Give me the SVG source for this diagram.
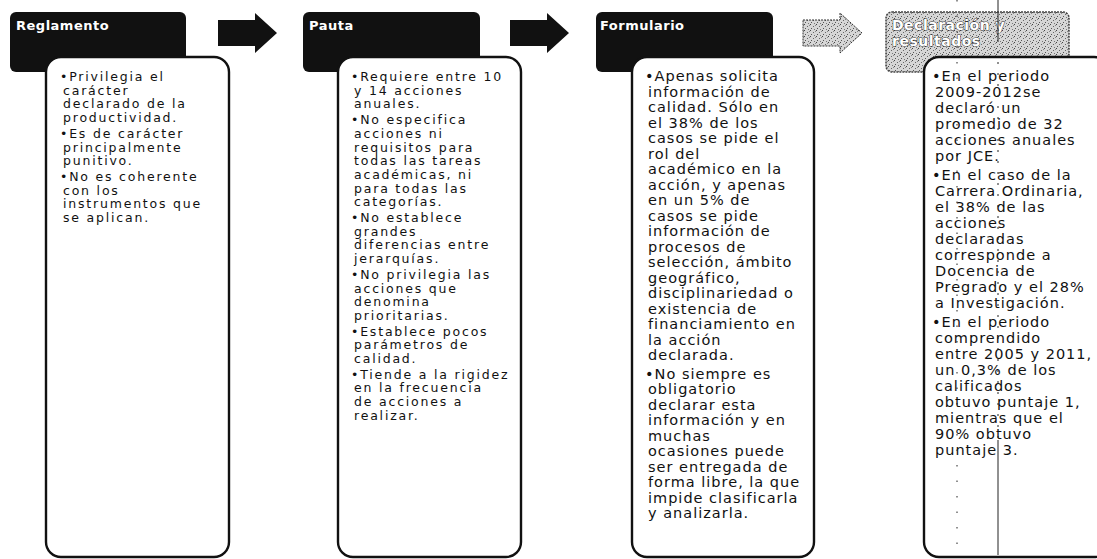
<svg xmlns="http://www.w3.org/2000/svg" width="1097" height="559" viewBox="0 0 1097 559">
<style>
.hdr{fill:#111;}
.box{fill:#fff;stroke:#111;stroke-width:2.4;}
.ht{font-family:"DejaVu Sans",sans-serif;font-weight:bold;font-size:13px;fill:#fff;letter-spacing:0.5px;}
.ht4{font-size:14px;fill:#fff;stroke:#333;stroke-width:1px;paint-order:stroke;}
.t{font-family:"DejaVu Sans","Liberation Sans",sans-serif;font-size:14.5px;fill:#111;letter-spacing:1px;}
.t2{font-family:"DejaVu Sans","Liberation Sans",sans-serif;font-size:12.5px;fill:#111;letter-spacing:1.8px;}
.arr{fill:#111;}
.scan{stroke:#222;stroke-width:1;fill:none;}
</style>
<defs>
<pattern id="dith" width="6" height="6" patternUnits="userSpaceOnUse">
<rect width="6" height="6" fill="#d6d6d6"/>
<rect x="0" y="0" width="1" height="1" fill="#444"/>
<rect x="3" y="2" width="1" height="1" fill="#666"/>
<rect x="1" y="4" width="1" height="1" fill="#555"/>
<rect x="4" y="5" width="1" height="1" fill="#777"/>
<rect x="5" y="1" width="1" height="1" fill="#888"/>
</pattern>
</defs>
<rect width="1097" height="559" fill="#fff"/>

<g id="connectors">
<path class="arr" d="M218,20 H255 V13 L277,33 L255,53 V46 H218 Z"/>
<path class="arr" d="M510,20 H547 V13 L569,33 L547,53 V46 H510 Z"/>
<path d="M803,20 H840 V13 L862,33 L840,53 V46 H803 Z" fill="url(#dith)" stroke="#333" stroke-width="1" stroke-dasharray="2 1"/>
</g>

<g id="node-reglamento">
<rect class="hdr" x="10" y="12" width="176" height="60" rx="6"/>
<text class="ht" x="16" y="30">Reglamento</text>
<rect class="box" x="46" y="57" width="183" height="500" rx="15"/>
<text class="t2">
<tspan x="60" y="81">•Privilegia el</tspan>
<tspan x="63" y="94.7">carácter</tspan>
<tspan x="63" y="108.4">declarado de la</tspan>
<tspan x="63" y="122.1">productividad.</tspan>
<tspan x="60" y="137.8">•Es de carácter</tspan>
<tspan x="63" y="151.5">principalmente</tspan>
<tspan x="63" y="165.2">punitivo.</tspan>
<tspan x="60" y="180.9">•No es coherente</tspan>
<tspan x="63" y="194.6">con los</tspan>
<tspan x="63" y="208.3">instrumentos que</tspan>
<tspan x="63" y="222">se aplican.</tspan>
</text>
</g>

<g id="node-pauta">
<rect class="hdr" x="303" y="12" width="177" height="60" rx="6"/>
<text class="ht" x="309" y="30">Pauta</text>
<rect class="box" x="338" y="57" width="183" height="500" rx="15"/>
<text class="t2">
<tspan x="351" y="81">•Requiere entre 10</tspan>
<tspan x="354" y="94.7">y 14 acciones</tspan>
<tspan x="354" y="108.4">anuales.</tspan>
<tspan x="351" y="124.1">•No especifica</tspan>
<tspan x="354" y="137.8">acciones ni</tspan>
<tspan x="354" y="151.5">requisitos para</tspan>
<tspan x="354" y="165.2">todas las tareas</tspan>
<tspan x="354" y="178.9">académicas, ni</tspan>
<tspan x="354" y="192.6">para todas las</tspan>
<tspan x="354" y="206.3">categorías.</tspan>
<tspan x="351" y="222">•No establece</tspan>
<tspan x="354" y="235.7">grandes</tspan>
<tspan x="354" y="249.4">diferencias entre</tspan>
<tspan x="354" y="263.1">jerarquías.</tspan>
<tspan x="351" y="278.8">•No privilegia las</tspan>
<tspan x="354" y="292.5">acciones que</tspan>
<tspan x="354" y="306.2">denomina</tspan>
<tspan x="354" y="319.9">prioritarias.</tspan>
<tspan x="351" y="335.6">•Establece pocos</tspan>
<tspan x="354" y="349.3">parámetros de</tspan>
<tspan x="354" y="363">calidad.</tspan>
<tspan x="351" y="378.7">•Tiende a la rigidez</tspan>
<tspan x="354" y="392.4">en la frecuencia</tspan>
<tspan x="354" y="406.1">de acciones a</tspan>
<tspan x="354" y="419.8">realizar.</tspan>
</text>
</g>

<g id="node-formulario">
<rect class="hdr" x="596" y="12" width="177" height="60" rx="6"/>
<text class="ht" x="600" y="30">Formulario</text>
<rect class="box" x="632" y="57" width="182" height="500" rx="15"/>
<text class="t">
<tspan x="645" y="81">•Apenas solicita</tspan>
<tspan x="648" y="96.5">información de</tspan>
<tspan x="648" y="112">calidad. Sólo en</tspan>
<tspan x="648" y="127.5">el 38% de los</tspan>
<tspan x="648" y="143">casos se pide el</tspan>
<tspan x="648" y="158.5">rol del</tspan>
<tspan x="648" y="174">académico en la</tspan>
<tspan x="648" y="189.5">acción, y apenas</tspan>
<tspan x="648" y="205">en un 5% de</tspan>
<tspan x="648" y="220.5">casos se pide</tspan>
<tspan x="648" y="236">información de</tspan>
<tspan x="648" y="251.5">procesos de</tspan>
<tspan x="648" y="267">selección, ámbito</tspan>
<tspan x="648" y="282.5">geográfico,</tspan>
<tspan x="648" y="298">disciplinariedad  o</tspan>
<tspan x="648" y="313.5">existencia de</tspan>
<tspan x="648" y="329">financiamiento en</tspan>
<tspan x="648" y="344.5">la acción</tspan>
<tspan x="648" y="360">declarada.</tspan>
<tspan x="645" y="378.5">•No siempre es</tspan>
<tspan x="648" y="394">obligatorio</tspan>
<tspan x="648" y="409.5">declarar esta</tspan>
<tspan x="648" y="425">información y en</tspan>
<tspan x="648" y="440.5">muchas</tspan>
<tspan x="648" y="456">ocasiones puede</tspan>
<tspan x="648" y="471.5">ser entregada de</tspan>
<tspan x="648" y="487">forma libre, la que</tspan>
<tspan x="648" y="502.5">impide clasificarla</tspan>
<tspan x="648" y="518">y analizarla.</tspan>
</text>
</g>

<g id="node-declaracion">
<rect x="886" y="12" width="183" height="60" rx="6" fill="url(#dith)" stroke="#444" stroke-width="1.5" stroke-dasharray="2 1"/>
<text class="ht ht4">
<tspan x="892" y="30">Declaración y</tspan>
<tspan x="892" y="46">resultados</tspan>
</text>
<rect class="box" x="924" y="57" width="185" height="500" rx="15"/>
<text class="t">
<tspan x="932" y="81">•En el periodo</tspan>
<tspan x="935" y="97">2009-2012se</tspan>
<tspan x="935" y="113">declaró un</tspan>
<tspan x="935" y="129">promedio de 32</tspan>
<tspan x="935" y="145">acciones anuales</tspan>
<tspan x="935" y="161">por JCE.</tspan>
<tspan x="932" y="180">•En el caso de la</tspan>
<tspan x="935" y="196">Carrera Ordinaria,</tspan>
<tspan x="935" y="212">el 38% de las</tspan>
<tspan x="935" y="228">acciones</tspan>
<tspan x="935" y="244">declaradas</tspan>
<tspan x="935" y="260">corresponde a</tspan>
<tspan x="935" y="276">Docencia de</tspan>
<tspan x="935" y="292">Pregrado y el 28%</tspan>
<tspan x="935" y="308">a Investigación.</tspan>
<tspan x="932" y="327">•En el periodo</tspan>
<tspan x="935" y="343">comprendido</tspan>
<tspan x="935" y="359">entre 2005 y 2011,</tspan>
<tspan x="935" y="375">un 0,3% de los</tspan>
<tspan x="935" y="391">calificados</tspan>
<tspan x="935" y="407">obtuvo puntaje 1,</tspan>
<tspan x="935" y="423">mientras que el</tspan>
<tspan x="935" y="439">90% obtuvo</tspan>
<tspan x="935" y="455">puntaje 3.</tspan>
</text>
</g>

<g id="scan-marks">
<line class="scan" x1="998" y1="0" x2="998" y2="40"/>
<line class="scan" x1="998" y1="40" x2="998" y2="440" stroke-dasharray="2 9"/>
<line class="scan" x1="998" y1="440" x2="998" y2="555"/>
<line class="scan" x1="957" y1="0" x2="957" y2="555" stroke-dasharray="1.5 14"/>
</g>
</svg>
